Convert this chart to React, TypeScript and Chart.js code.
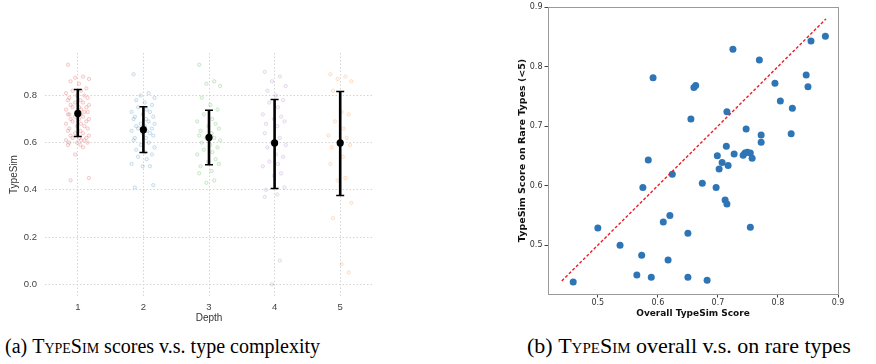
import React, { useEffect, useRef } from "react";
import { Chart, registerables } from "chart.js";

Chart.register(...registerables);

// ---------- Left chart data: TypeSim by depth ----------
const DEPTHS = [1, 2, 3, 4, 5];
const DEPTH_COLORS = ["214,39,40", "31,119,180", "44,160,44", "148,103,189", "255,127,14"];
const DEPTH1 = [0.93, 0.88, 0.875, 0.87, 0.86, 0.85, 0.83, 0.82, 0.82, 0.81, 0.8, 0.8, 0.79, 0.79, 0.78, 0.78, 0.77, 0.77, 0.76, 0.76, 0.75, 0.75, 0.75, 0.74, 0.74, 0.73, 0.73, 0.73, 0.72, 0.72, 0.72, 0.71, 0.71, 0.7, 0.7, 0.7, 0.69, 0.69, 0.68, 0.68, 0.67, 0.67, 0.66, 0.66, 0.65, 0.65, 0.64, 0.64, 0.63, 0.63, 0.62, 0.62, 0.62, 0.61, 0.61, 0.61, 0.6, 0.6, 0.6, 0.59, 0.59, 0.58, 0.55, 0.45, 0.44];
const DEPTH2 = [0.89, 0.81, 0.8, 0.79, 0.78, 0.77, 0.76, 0.75, 0.74, 0.73, 0.73, 0.72, 0.71, 0.71, 0.7, 0.7, 0.69, 0.68, 0.68, 0.67, 0.67, 0.66, 0.66, 0.65, 0.65, 0.64, 0.64, 0.63, 0.62, 0.62, 0.61, 0.6, 0.59, 0.58, 0.57, 0.56, 0.55, 0.54, 0.53, 0.51, 0.5, 0.5, 0.42, 0.41];
const DEPTH3 = [0.93, 0.86, 0.85, 0.84, 0.79, 0.76, 0.74, 0.72, 0.7, 0.69, 0.68, 0.67, 0.66, 0.65, 0.64, 0.63, 0.62, 0.62, 0.61, 0.6, 0.59, 0.58, 0.57, 0.56, 0.55, 0.53, 0.52, 0.51, 0.5, 0.48, 0.47, 0.44, 0.43];
const DEPTH4 = [0.9, 0.88, 0.86, 0.84, 0.82, 0.8, 0.78, 0.77, 0.75, 0.72, 0.71, 0.7, 0.69, 0.68, 0.67, 0.64, 0.62, 0.6, 0.59, 0.58, 0.55, 0.54, 0.52, 0.51, 0.5, 0.47, 0.46, 0.41, 0.4, 0.38, 0.37, 0.1, 0.0];
const DEPTH5 = [0.89, 0.88, 0.87, 0.86, 0.82, 0.73, 0.72, 0.69, 0.66, 0.63, 0.62, 0.6, 0.59, 0.58, 0.54, 0.51, 0.45, 0.44, 0.345, 0.28, 0.085, 0.05];
const STRIP_VALUES = [DEPTH1, DEPTH2, DEPTH3, DEPTH4, DEPTH5];
const JITTER = [-0.15, 0.08, -0.04, 0.17, -0.11, 0.02, 0.13, -0.08, 0.05, -0.18, 0.1, -0.01, 0.15, -0.13, 0.04];
const MEANS = [0.724, 0.655, 0.622, 0.599, 0.599];
const LOWER = [0.626, 0.558, 0.506, 0.406, 0.376];
const UPPER = [0.825, 0.752, 0.737, 0.783, 0.817];
const LEFT_Y_TICKS = [0, 0.2, 0.4, 0.6, 0.8];

// ---------- Right chart data: overall vs rare ----------
const OVERALL = [0.459, 0.5, 0.537, 0.565, 0.573, 0.575, 0.584, 0.589, 0.592, 0.609, 0.617, 0.62, 0.624, 0.65, 0.65, 0.655, 0.66, 0.663, 0.674, 0.682, 0.697, 0.699, 0.702, 0.707, 0.712, 0.715, 0.714, 0.715, 0.717, 0.725, 0.727, 0.742, 0.745, 0.749, 0.754, 0.754, 0.757, 0.747, 0.769, 0.772, 0.772, 0.795, 0.804, 0.822, 0.824, 0.847, 0.85, 0.855, 0.879];
const RARE = [0.438, 0.529, 0.5, 0.45, 0.483, 0.597, 0.643, 0.446, 0.781, 0.539, 0.475, 0.55, 0.619, 0.52, 0.446, 0.712, 0.765, 0.768, 0.604, 0.441, 0.597, 0.65, 0.628, 0.639, 0.576, 0.569, 0.666, 0.724, 0.634, 0.829, 0.653, 0.651, 0.655, 0.656, 0.655, 0.53, 0.646, 0.695, 0.811, 0.685, 0.673, 0.772, 0.742, 0.687, 0.73, 0.786, 0.766, 0.843, 0.851];
const DIAGONAL = [0.44, 0.88];
const RIGHT_TICKS = [0.5, 0.6, 0.7, 0.8, 0.9];

const errorBarPlugin = {
  id: "errorBars",
  afterDatasetsDraw(chart: any) {
    const { ctx, scales } = chart;
    const xs = scales.x;
    const ys = scales.y;
    ctx.save();
    ctx.strokeStyle = "#000";
    ctx.fillStyle = "#000";
    DEPTHS.forEach((d, i) => {
      const px = xs.getPixelForValue(d);
      const lo = ys.getPixelForValue(LOWER[i]);
      const hi = ys.getPixelForValue(UPPER[i]);
      const m = ys.getPixelForValue(MEANS[i]);
      ctx.lineWidth = 2.6;
      ctx.beginPath();
      ctx.moveTo(px, lo);
      ctx.lineTo(px, hi);
      ctx.stroke();
      ctx.lineWidth = 1.5;
      ctx.beginPath();
      ctx.moveTo(px - 4, lo);
      ctx.lineTo(px + 4, lo);
      ctx.moveTo(px - 4, hi);
      ctx.lineTo(px + 4, hi);
      ctx.stroke();
      ctx.beginPath();
      ctx.arc(px, m, 3.6, 0, Math.PI * 2);
      ctx.fill();
    });
    ctx.restore();
  },
};

const framePlugin = {
  id: "frame",
  afterDraw(chart: any) {
    const { ctx, chartArea } = chart;
    ctx.save();
    ctx.strokeStyle = "#9a9a9a";
    ctx.lineWidth = 1;
    ctx.strokeRect(
      Math.round(chartArea.left) + 0.5,
      Math.round(chartArea.top) + 0.5,
      Math.round(chartArea.right - chartArea.left),
      Math.round(chartArea.bottom - chartArea.top)
    );
    ctx.restore();
  },
};

function LeftChart() {
  const ref = useRef<HTMLCanvasElement>(null);
  useEffect(() => {
    if (!ref.current) return;
    const gridCommon = {
      color: "#d4d4d4",
      lineWidth: 1,
      drawTicks: false,
      borderDash: [1.5, 2],
    };
    const chart = new Chart(ref.current, {
      type: "scatter",
      data: {
        datasets: DEPTHS.map((d, k) => ({
          label: "Depth " + d,
          data: STRIP_VALUES[k].map((v, i) => ({ x: d + JITTER[i % JITTER.length], y: v })),
          pointRadius: 1.7,
          pointBorderWidth: 0.7,
          borderColor: `rgba(${DEPTH_COLORS[k]},0.3)`,
          backgroundColor: `rgba(${DEPTH_COLORS[k]},0.06)`,
        })),
      },
      options: {
        animation: false,
        responsive: false,
        layout: { padding: { top: 53, right: 12, left: 0, bottom: 0 } },
        plugins: { legend: { display: false }, tooltip: { enabled: false } },
        scales: {
          x: {
            type: "linear",
            min: 0.5,
            max: 5.5,
            afterBuildTicks: (s: any) => {
              s.ticks = DEPTHS.map((v) => ({ value: v }));
            },
            afterFit: (s: any) => {
              s.height = 34;
            },
            grid: gridCommon,
            border: { display: false, dash: [1.5, 2] },
            ticks: {
              padding: 6,
              color: "#444",
              font: { family: "Liberation Sans", size: 9.5 },
              callback: (v: any) => String(v),
            },
            title: {
              display: true,
              text: "Depth",
              color: "#333",
              font: { family: "Liberation Sans", size: 10 },
              padding: { top: 0, bottom: 6 },
            },
          },
          y: {
            type: "linear",
            min: -0.05,
            max: 0.98,
            afterBuildTicks: (s: any) => {
              s.ticks = LEFT_Y_TICKS.map((v) => ({ value: v }));
            },
            afterFit: (s: any) => {
              s.width = 45;
            },
            grid: gridCommon,
            border: { display: false, dash: [1.5, 2] },
            ticks: {
              padding: 8,
              color: "#444",
              font: { family: "Liberation Sans", size: 9.5 },
              callback: (v: any) => Number(v).toFixed(1),
            },
            title: {
              display: true,
              text: "TypeSim",
              color: "#333",
              font: { family: "Liberation Sans", size: 10 },
              padding: { top: 8, bottom: 0 },
            },
          },
        },
      },
      plugins: [errorBarPlugin],
    } as any);
    return () => chart.destroy();
  }, []);
  return <canvas ref={ref} width={385} height={330} style={{ position: "absolute", left: 0, top: 0, width: 385, height: 330 }} />;
}

function RightChart() {
  const ref = useRef<HTMLCanvasElement>(null);
  useEffect(() => {
    if (!ref.current) return;
    const tickFont = { family: "DejaVu Sans", size: 8 };
    const titleFont = { family: "DejaVu Sans", size: 9, weight: "bold" as const };
    const chart = new Chart(ref.current, {
      type: "scatter",
      data: {
        datasets: [
          {
            label: "points",
            data: OVERALL.map((x, i) => ({ x, y: RARE[i] })),
            pointRadius: 3.5,
            pointBorderWidth: 0,
            backgroundColor: "#2e75b6",
            borderColor: "#2e75b6",
            order: 2,
          },
          {
            type: "line",
            label: "y = x",
            data: DIAGONAL.map((v) => ({ x: v, y: v })),
            borderColor: "#ee1c25",
            borderWidth: 1.4,
            borderDash: [3, 2],
            pointRadius: 0,
            fill: false,
            order: 1,
          },
        ],
      },
      options: {
        animation: false,
        responsive: false,
        layout: { padding: { top: 7, right: 38, left: 0, bottom: 0 } },
        plugins: { legend: { display: false }, tooltip: { enabled: false } },
        scales: {
          x: {
            type: "linear",
            min: 0.417,
            max: 0.9,
            afterBuildTicks: (s: any) => {
              s.ticks = RIGHT_TICKS.map((v) => ({ value: v }));
            },
            afterFit: (s: any) => {
              s.height = 36;
            },
            grid: { drawOnChartArea: false, drawTicks: true, tickLength: 3.5, color: "#444", tickColor: "#444" },
            border: { display: false },
            ticks: { padding: 1, color: "#333", font: tickFont, callback: (v: any) => Number(v).toFixed(1) },
            title: {
              display: true,
              text: "Overall TypeSim Score",
              color: "#111",
              font: titleFont,
              padding: { top: 0, bottom: 10.5 },
            },
          },
          y: {
            type: "linear",
            min: 0.418,
            max: 0.9,
            afterBuildTicks: (s: any) => {
              s.ticks = RIGHT_TICKS.map((v) => ({ value: v }));
            },
            afterFit: (s: any) => {
              s.width = 68;
            },
            grid: { drawOnChartArea: false, drawTicks: true, tickLength: 3.5, color: "#444", tickColor: "#444" },
            border: { display: false },
            ticks: { padding: 2, color: "#333", font: tickFont, callback: (v: any) => Number(v).toFixed(1) },
            title: {
              display: true,
              text: "TypeSim Score on Rare Types (<5)",
              color: "#111",
              font: { family: "DejaVu Sans", size: 9.5, weight: "bold" },
              padding: { top: 37, bottom: 0 },
            },
          },
        },
      },
      plugins: [framePlugin],
    } as any);
    return () => chart.destroy();
  }, []);
  return <canvas ref={ref} width={396} height={330} style={{ position: "absolute", left: 480, top: 0, width: 396, height: 330 }} />;
}

const captionStyle: React.CSSProperties = {
  position: "absolute",
  top: 335,
  fontFamily: "'Liberation Serif', 'Times New Roman', serif",
  fontSize: 20,
  lineHeight: "23px",
  whiteSpace: "nowrap",
  color: "#000",
};

export default function App() {
  return (
    <div style={{ position: "fixed", left: 0, top: 0, width: 876, height: 364, background: "#fff", overflow: "hidden" }}>
      <LeftChart />
      <RightChart />
      <div style={{ ...captionStyle, left: 5 }}>
        (a) <span style={{ fontVariant: "small-caps" }}>TypeSim</span> scores v.s. type complexity
      </div>
      <div style={{ ...captionStyle, left: 527, fontSize: 22, top: 333, lineHeight: "25px" }}>
        (b) <span style={{ fontVariant: "small-caps" }}>TypeSim</span> overall v.s. on rare types
      </div>
    </div>
  );
}
